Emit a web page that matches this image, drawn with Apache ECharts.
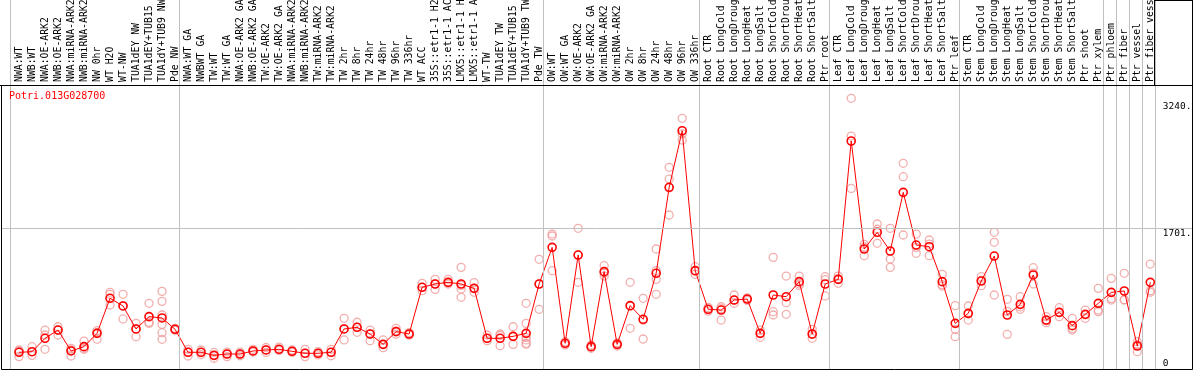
<!DOCTYPE html>
<html>
<head>
<meta charset="utf-8">
<script src="https://cdn.jsdelivr.net/npm/echarts@6/dist/echarts.min.js"></script>
<style>
html,body{margin:0;padding:0;background:#fff;}
#chart{width:1194px;height:370px;}
</style>
</head>
<body>
<div id="chart"></div>
<script>
const geneName = 'Potri.013G028700';

const categories = [
  'NWA:WT','NWB:WT','NWA:OE-ARK2','NWB:OE-ARK2','NWA:miRNA-ARK2','NWB:miRNA-ARK2','NW 0hr','WT H2O','WT-NW','TUA1dEY NW','TUA1dEY+TUB15','TUA1dY+TUB9 NW','Pde NW',
  'NWA:WT GA','NWBWT GA','TW:WT','TW:WT GA','NWA:OE-ARK2 GA','NWB:OE-ARK2 GA','TW:OE-ARK2','TW:OE-ARK2 GA','NWA:miRNA-ARK2 GA','NWB:miRNA-ARK2 GA','TW:miRNA-ARK2','TW:miRNA-ARK2 GA',
  'TW 2hr','TW 8hr','TW 24hr','TW 48hr','TW 96hr','TW 336hr','WT ACC','35S::etr1-1 H2O','35S::etr1-1 ACC','LMX5::etr1-1 H2O','LMX5::etr1-1 ACC','WT-TW','TUA1dEY TW','TUA1dEY+TUB15','TUA1dY+TUB9 TW','Pde TW',
  'OW:WT','OW:WT GA','OW:OE-ARK2','OW:OE-ARK2 GA','OW:miRNA-ARK2','OW:miRNA-ARK2 GA','OW 2hr','OW 8hr','OW 24hr','OW 48hr','OW 96hr','OW 336hr',
  'Root CTR','Root LongCold','Root LongDrought','Root LongHeat','Root LongSalt','Root ShortCold','Root ShortDrought','Root ShortHeat','Root ShortSalt','Ptr root',
  'Leaf CTR','Leaf LongCold','Leaf LongDrought','Leaf LongHeat','Leaf LongSalt','Leaf ShortCold','Leaf ShortDrought','Leaf ShortHeat','Leaf ShortSalt','Ptr leaf',
  'Stem CTR','Stem LongCold','Stem LongDrought','Stem LongHeat','Stem LongSalt','Stem ShortCold','Stem ShortDrought','Stem ShortHeat','Stem ShortSalt','Ptr shoot','Ptr xylem',
  'Ptr phloem','Ptr fiber','Ptr vessel','Ptr fiber vessel'
];

const groupSizes = [13, 28, 12, 10, 10, 11, 1, 1, 1, 1];

const means = [
  202,209,371,471,218,270,431,855,762,484,633,617,480,
  202,202,165,181,181,218,230,238,214,190,190,202,
  484,504,423,298,452,423,988,1028,1048,1028,975,371,371,395,431,1028,
  1471,311,1378,270,1177,298,766,601,1157,2197,2881,1189,
  722,713,834,846,431,895,874,1056,423,1028,
  1084,2757,1451,1653,1427,2136,1499,1479,1056,552,
  673,1064,1366,653,782,1137,592,685,524,661,794,
  927,943,278,1048
];

const replicates = [
  [230,150,215],[270,209,165],[471,411,238],[511,411,471],[250,157,230],[338,238,250],[463,359,440],[927,903,774],[903,605,762],[552,391,484],[794,565,552],[939,818,653,540,439,359],[490,470,480],
  [238,157,205],[230,175,202],[200,130,165],[205,150,181],[205,160,181],[238,205,218],[260,200,230],[265,225,238],[230,200,214],[238,150,190],[210,170,190],[238,160,202],
  [613,351,484],[565,444,504],[471,342,423],[351,258,298],[492,420,459],[440,423,410],[1036,947,988],[1084,963,1028],[1084,1028,1048],[1229,1010,967,867],[1044,927,975],[411,342,371],[423,282,405],[511,298,395],[794,552,380,351,311,300],[1326,722,1028],
  [1632,1608,1189],[330,290,311],[1701,1048,1380],[290,250,270],[1249,1124,1160],[318,278,298],[1048,492,760],[855,363,590],[1451,1084,903,1190],[2439,2297,1862,2190],[3031,2769,2843],[1237,1145,1185],
  [745,700,722],[753,730,592],[895,794,834],[860,830,846],[471,383,431],[1350,693,653],[1124,802,661],[1124,1030,1010],[480,371,420],[1116,1080,883],
  [1124,1036,1090],[3273,2817,2184],[1508,1370,1475],[1753,1520,1690],[1701,1330,1229],[2487,2325,1620],[1632,1399,1470],[1560,1370,1510],[1145,1003,1020],[766,480,391],
  [762,592,665],[1116,1007,1070],[1653,1532,895],[843,697,419],[874,722,750],[1225,1028,1158],[633,583,560],[741,633,681],[613,471,490],[713,613,657],[975,713,694],
  [1096,834,851],[1157,834,838],[330,209,295],[1269,947,928]
];

const yTickValues = [0, 1701, 3240];
const yTickLabels = ['0', '1701.', '3240.'];
const gridLineValues = [1701];
const yMax = 3434;

// derived
const boundaries = [0];
groupSizes.forEach(s => boundaries.push(boundaries[boundaries.length - 1] + s));
const repData = [];
replicates.forEach((arr, i) => arr.forEach(v => repData.push([i, v])));
const labelFor = v => yTickLabels[yTickValues.indexOf(v)];

const mono = 'DejaVu Sans Mono';
const chart = echarts.init(document.getElementById('chart'), null, {renderer: 'canvas'});

const option = {
  animation: false,
  backgroundColor: '#fff',
  title: {
    text: geneName, left: 9, top: 91, padding: 0,
    textStyle: {color: '#ff0000', fontSize: 10, fontWeight: 'normal', fontFamily: mono}
  },
  grid: [
    {left: 1, right: 2, top: 85, bottom: 1, outerBoundsMode: 'none', containLabel: false},
    {left: 10.5, right: 39.2, top: 0, bottom: 1, outerBoundsMode: 'none', containLabel: false},
    {left: 12.5, right: 37.2, top: 85, bottom: 1, outerBoundsMode: 'none', containLabel: false}
  ],
  xAxis: [
    {gridIndex: 0, type: 'value', min: 0, max: 1, show: false},
    {gridIndex: 1, type: 'value', min: 0, max: categories.length, show: false},
    {
      gridIndex: 2, type: 'category', position: 'top', data: categories, boundaryGap: true,
      axisLine: {show: false}, axisTick: {show: false}, splitLine: {show: false},
      axisLabel: {interval: 0, rotate: 90, margin: 3, color: '#000', fontSize: 9.8, fontFamily: mono, hideOverlap: false}
    }
  ],
  yAxis: [
    {gridIndex: 0, type: 'value', min: 0, max: yMax, show: false},
    {gridIndex: 1, type: 'value', min: 0, max: 1, show: false},
    {
      gridIndex: 2, type: 'value', position: 'right', min: 0, max: yMax,
      axisLine: {show: false}, axisTick: {show: false}, splitLine: {show: false},
      axisLabel: {customValues: yTickValues.filter(v => v > 0), formatter: labelFor, verticalAlign: 'top', margin: 6,
        color: '#000', fontSize: 9.5, fontFamily: mono}
    },
    {
      gridIndex: 2, type: 'value', position: 'right', min: 0, max: yMax,
      axisLine: {show: false}, axisTick: {show: false}, splitLine: {show: false},
      axisLabel: {customValues: yTickValues.filter(v => v === 0), formatter: labelFor, verticalAlign: 'bottom', margin: 6,
        color: '#000', fontSize: 9.5, fontFamily: mono}
    }
  ],
  series: [
    {
      type: 'scatter', xAxisIndex: 0, yAxisIndex: 0, data: [], silent: true, z: 1,
      markLine: {
        silent: true, symbol: 'none', label: {show: false},
        lineStyle: {color: '#c0c0c0', width: 1, type: 'solid'},
        data: gridLineValues.map(v => ({yAxis: v}))
      }
    },
    {
      type: 'scatter', xAxisIndex: 1, yAxisIndex: 1, data: [], silent: true, z: 1,
      markLine: {
        silent: true, symbol: 'none', label: {show: false},
        lineStyle: {color: '#c0c0c0', width: 1, type: 'solid'},
        data: boundaries.map(b => ({xAxis: b}))
      }
    },
    {
      name: 'replicates', type: 'scatter', xAxisIndex: 2, yAxisIndex: 2, data: repData, z: 3,
      symbol: 'circle', symbolSize: 8,
      itemStyle: {color: 'rgba(0,0,0,0)', borderColor: '#f09a9a', borderWidth: 1.3}
    },
    {
      name: 'mean', type: 'line', xAxisIndex: 2, yAxisIndex: 2, data: means, z: 4,
      symbol: 'circle', symbolSize: 8, showAllSymbol: true,
      lineStyle: {color: '#ff0000', width: 1},
      itemStyle: {color: 'rgba(0,0,0,0)', borderColor: '#ff0000', borderWidth: 1.6}
    }
  ],
  graphic: [
    {type: 'rect', silent: true, z: 10, shape: {x: 1.5, y: 85.5, width: 1191, height: 284}, style: {fill: null, stroke: '#000', lineWidth: 1}},
    {type: 'line', silent: true, z: 10, shape: {x1: 0, y1: 85.5, x2: 2, y2: 85.5}, style: {stroke: '#000', lineWidth: 1}},
    {type: 'line', silent: true, z: 10, shape: {x1: 1154.5, y1: 0.5, x2: 1192.5, y2: 0.5}, style: {stroke: '#000', lineWidth: 1}},
    {type: 'line', silent: true, z: 10, shape: {x1: 1192.5, y1: 0, x2: 1192.5, y2: 86}, style: {stroke: '#000', lineWidth: 1}},
    {type: 'line', silent: true, z: 10, shape: {x1: 1154.5, y1: 0, x2: 1154.5, y2: 85}, style: {stroke: '#000', lineWidth: 1}}
  ]
};
chart.setOption(option);
</script>
</body>
</html>
